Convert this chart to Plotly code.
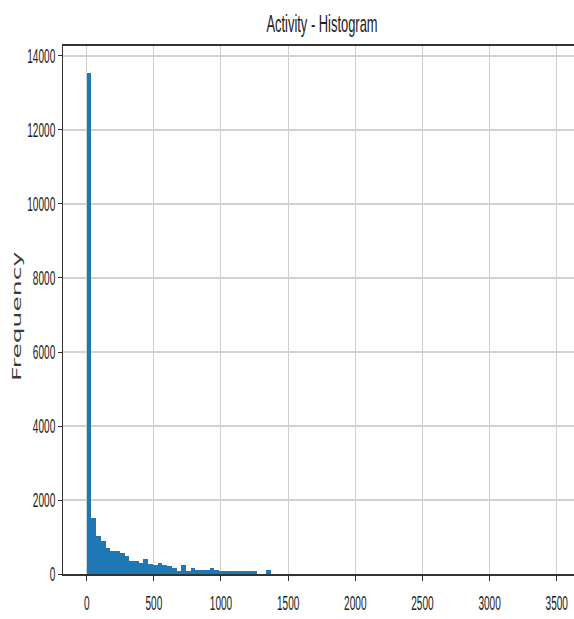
import numpy as np
import plotly.graph_objects as go

# Histogram of activity values: 100 equal-width bins starting at 0
BIN_WIDTH = 35.2
counts = [
    13550, 1520, 1020, 885, 705, 635, 630, 580, 490, 360,
    355, 290, 405, 260, 235, 300, 230, 225, 160, 80,
    230, 80, 160, 100, 100, 100, 165, 95, 92, 90,
    92, 88, 90, 86, 85, 82, 0, 0, 95, 0,
    0, 0, 0, 0, 0, 0, 0, 0, 0, 0,
    0, 0, 0, 0, 0, 0, 0, 0, 0, 0,
    0, 0, 0, 0, 0, 0, 0, 0, 0, 0,
    0, 0, 0, 0, 0, 0, 0, 0, 0, 0,
    0, 0, 0, 0, 0, 0, 0, 0, 0, 0,
    0, 0, 0, 0, 0, 0, 0, 0, 0, 0,
]
x_ticks = [0, 500, 1000, 1500, 2000, 2500, 3000, 3500]
y_ticks = [0, 2000, 4000, 6000, 8000, 10000, 12000, 14000]

bin_left = np.arange(len(counts)) * BIN_WIDTH

FONT = "Liberation Sans, Arial, sans-serif"
TEXT = "#222222"
SPINE = "#333333"

fig = go.Figure(
    go.Bar(
        x=bin_left,
        y=counts,
        width=BIN_WIDTH,
        offset=0,
        marker=dict(color="#1f77b4", line=dict(width=0)),
        hoverinfo="x+y",
    )
)

fig.update_layout(
    width=574,
    height=619,
    margin=dict(l=63, r=0, t=46, b=45),
    plot_bgcolor="white",
    paper_bgcolor="white",
    showlegend=False,
    bargap=0,
    title=dict(
        text="Activity - Histogram",
        xref="container", x=322 / 574, xanchor="center",
        yref="container", y=1 - 24 / 619, yanchor="middle",
        font=dict(family=FONT, size=17, color=TEXT),
    ),
    annotations=[
        dict(
            text="Frequency",
            xref="paper", x=-47 / 511, xanchor="center",
            yref="paper", y=0.488, yanchor="middle",
            textangle=-90, showarrow=False,
            font=dict(family="DejaVu Sans, sans-serif", size=12.5, color="#3a3a3a"),
        )
    ],
)

fig.update_xaxes(
    range=[-176.5, 3628.7],
    tickvals=x_ticks,
    ticktext=[str(v) for v in x_ticks],
    showgrid=True, gridcolor="#cfcfcf", gridwidth=1,
    showline=True, linecolor=SPINE, linewidth=2, mirror=True,
    ticks="outside", ticklen=5, tickcolor=SPINE, tickwidth=1,
    ticklabelstandoff=10,
    zeroline=False,
    tickfont=dict(family=FONT, size=14, color=TEXT),
)
fig.update_yaxes(
    range=[0, 14270],
    tickvals=y_ticks,
    ticktext=[str(v) for v in y_ticks],
    showgrid=True, gridcolor="#d2d2d2", gridwidth=2,
    showline=True, linecolor=SPINE, linewidth=1,
    ticks="outside", ticklen=4, tickcolor=SPINE, tickwidth=1,
    zeroline=False,
    tickfont=dict(family=FONT, size=14, color=TEXT),
)

# Tall, condensed lettering: stretch each label about an anchor point
# (fx = 0.5 keeps the centre, fx = 1 keeps the right edge).
post_js = """
function stretch(sel, sx, sy, fx) {
  document.querySelectorAll(sel).forEach(function (t) {
    var b = t.getBBox();
    var cx = b.x + b.width * fx, cy = b.y + b.height / 2;
    var old = t.getAttribute('transform') || '';
    t.setAttribute('transform', old + ' translate(' + cx + ',' + cy + ') scale(' + sx + ',' + sy + ') translate(' + (-cx) + ',' + (-cy) + ')');
  });
}
stretch('.xtick text', 0.72, 1.45, 0.5);
stretch('.ytick text', 0.72, 1.45, 1.0);
stretch('.gtitle', 0.76, 1.4, 0.5);
stretch('.annotation-text', 2.0, 1, 0.5);
"""

fig.write_html("out.html", post_script=post_js)
